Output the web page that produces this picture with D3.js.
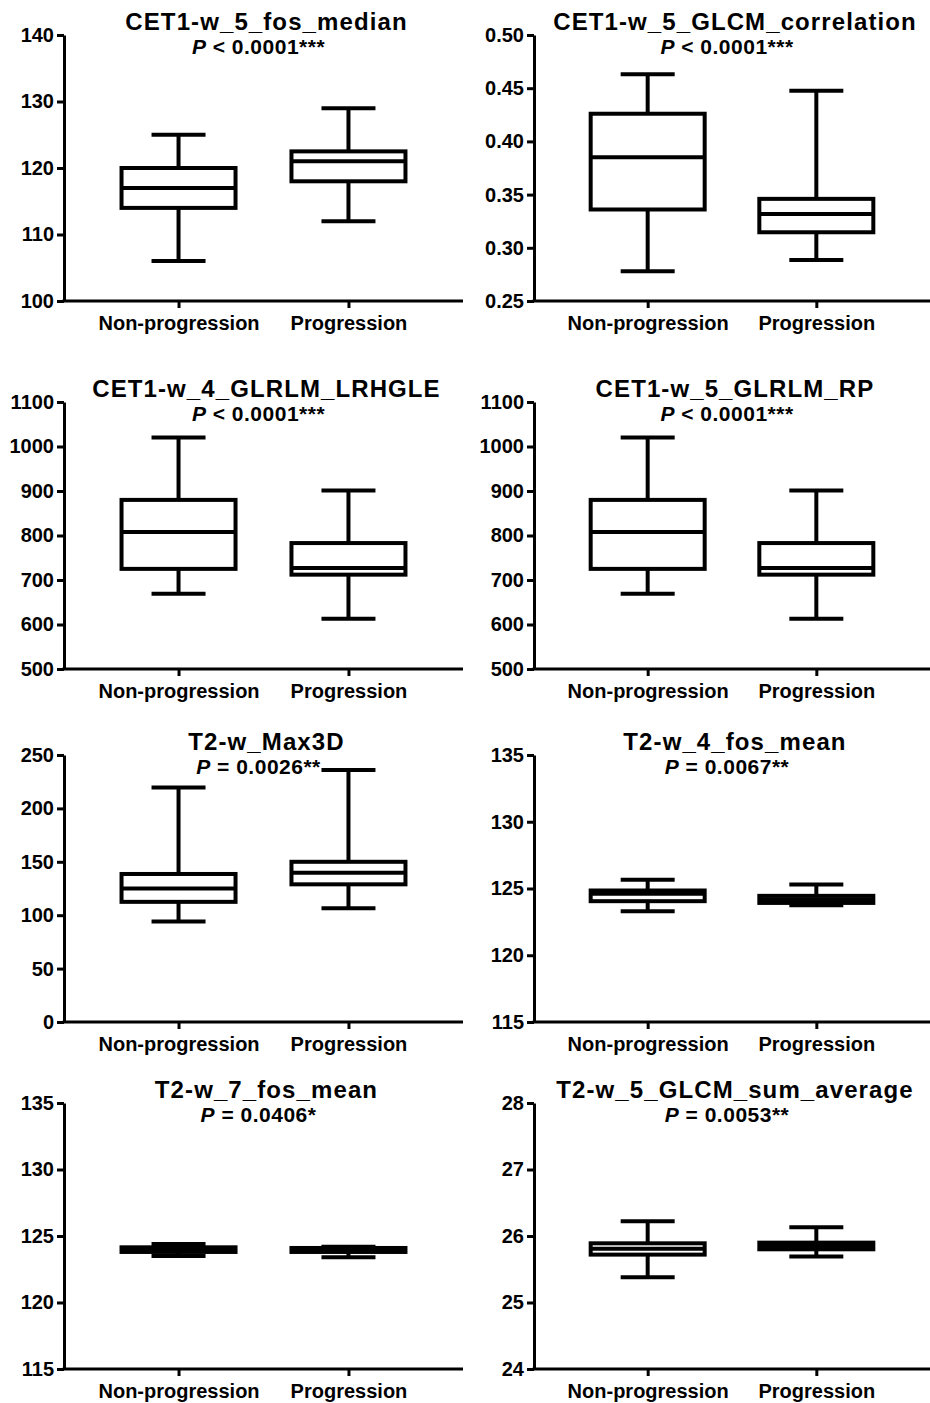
<!DOCTYPE html>
<html>
<head>
<meta charset="utf-8">
<script src="https://cdn.jsdelivr.net/npm/d3@7"></script>
<style>
  html, body { margin: 0; padding: 0; background: #fff; }
  svg { display: block; }
  text { font-family: "Liberation Sans", Arial, sans-serif; font-weight: bold; fill: #000; }
</style>
</head>
<body>
<svg id="chart" width="930" height="1403"></svg>
<script>
// ---------------- DATA ----------------
const categories = ["Non-progression", "Progression"];
const titles = [
  "CET1-w_5_fos_median", "CET1-w_5_GLCM_correlation",
  "CET1-w_4_GLRLM_LRHGLE", "CET1-w_5_GLRLM_RP",
  "T2-w_Max3D", "T2-w_4_fos_mean",
  "T2-w_7_fos_mean", "T2-w_5_GLCM_sum_average"
];
const pRelations = ["<", "<", "<", "<", "=", "=", "=", "="];
const pValues = ["0.0001", "0.0001", "0.0001", "0.0001", "0.0026", "0.0067", "0.0406", "0.0053"];
const pStars = ["***", "***", "***", "***", "**", "**", "*", "**"];
const yDomains = [[100, 140], [0.25, 0.50], [500, 1100], [500, 1100], [0, 250], [115, 135], [115, 135], [24, 28]];
const yTicks = [
  [100, 110, 120, 130, 140],
  [0.25, 0.30, 0.35, 0.40, 0.45, 0.50],
  [500, 600, 700, 800, 900, 1000, 1100],
  [500, 600, 700, 800, 900, 1000, 1100],
  [0, 50, 100, 150, 200, 250],
  [115, 120, 125, 130, 135],
  [115, 120, 125, 130, 135],
  [24, 25, 26, 27, 28]
];
const tickFormats = ["d", ".2f", "d", "d", "d", "d", "d", "d"];
// [min, Q1, median, Q3, max]
const nonProgression = [
  [106, 114, 117, 120, 125],
  [0.278, 0.336, 0.385, 0.426, 0.463],
  [669, 725, 808, 880, 1020],
  [669, 725, 808, 880, 1020],
  [94, 112.5, 125, 138.6, 219.5],
  [123.3, 124.05, 124.6, 124.85, 125.65],
  [123.5, 123.8, 124.0, 124.15, 124.4],
  [25.38, 25.72, 25.81, 25.89, 26.22]
];
const progression = [
  [112, 118, 121, 122.5, 129],
  [0.2885, 0.3146, 0.3318, 0.346, 0.4477],
  [613, 712, 727, 783, 901],
  [613, 712, 727, 783, 901],
  [106.4, 128.9, 139.8, 150, 236],
  [123.75, 123.92, 124.2, 124.45, 125.3],
  [123.4, 123.8, 123.95, 124.1, 124.2],
  [25.69, 25.8, 25.85, 25.9, 26.13]
];

// ---------------- LAYOUT ----------------
const svg = d3.select("#chart");
const colX = [[64, 463], [534, 930]];
const rowY = [[35, 301], [402, 669], [755, 1022], [1103, 1369]];
const boxHalf = 57, capHalf = 27, lw = 4;
const FONT = '"Liberation Sans", Arial, sans-serif';

titles.forEach((title, i) => {
  const [x0, x1] = colX[i % 2];
  const [yTop, yBot] = rowY[Math.floor(i / 2)];
  const g = svg.append("g");

  const x = d3.scalePoint().domain(categories).range([x0, x1]).padding(0.674);
  const y = d3.scaleLinear().domain(yDomains[i]).range([yBot, yTop]);

  // y axis
  const ya = g.append("g").attr("transform", `translate(${x0},0)`)
    .call(d3.axisLeft(y).tickValues(yTicks[i]).tickFormat(d3.format(tickFormats[i])).tickSize(7).tickPadding(3).tickSizeOuter(0));
  ya.select(".domain").attr("stroke", "#000").attr("stroke-width", 3);
  ya.selectAll(".tick line").attr("stroke", "#000").attr("stroke-width", 3);
  ya.selectAll(".tick text").attr("font-size", 20).style("font-family", FONT).style("font-weight", "bold").attr("fill", "#000");

  // x axis
  const xa = g.append("g").attr("transform", `translate(0,${yBot})`)
    .call(d3.axisBottom(x).tickSize(7).tickPadding(8).tickSizeOuter(0));
  xa.select(".domain").attr("stroke", "#000").attr("stroke-width", 3).attr("d", `M${x0 - 1.5},0H${x1}`);
  xa.selectAll(".tick line").attr("stroke", "#000").attr("stroke-width", 3);
  xa.selectAll(".tick text").attr("font-size", 20).style("font-family", FONT).style("font-weight", "bold").attr("fill", "#000");

  // boxes
  const groups = [nonProgression[i], progression[i]];
  groups.forEach((s, k) => {
    const cx = x(categories[k]);
    const [mn, q1, md, q3, mx] = s;
    const bg = g.append("g").attr("stroke", "#000").attr("stroke-width", lw).attr("fill", "none");
    bg.append("line").attr("x1", cx).attr("x2", cx).attr("y1", y(q3)).attr("y2", y(mx));
    bg.append("line").attr("x1", cx).attr("x2", cx).attr("y1", y(q1)).attr("y2", y(mn));
    bg.append("line").attr("x1", cx - capHalf).attr("x2", cx + capHalf).attr("y1", y(mx)).attr("y2", y(mx));
    bg.append("line").attr("x1", cx - capHalf).attr("x2", cx + capHalf).attr("y1", y(mn)).attr("y2", y(mn));
    bg.append("rect").attr("x", cx - boxHalf).attr("width", 2 * boxHalf)
      .attr("y", y(q3)).attr("height", y(q1) - y(q3)).attr("fill", "#fff");
    bg.append("line").attr("x1", cx - boxHalf).attr("x2", cx + boxHalf).attr("y1", y(md)).attr("y2", y(md));
  });

  // titles
  const cxT = (x0 + x1) / 2 + 3;
  g.append("text").attr("x", cxT).attr("y", yTop - 5).attr("text-anchor", "middle")
    .attr("font-size", 24).attr("letter-spacing", 1.1).text(title);
  const pt = g.append("text").attr("x", cxT - 8).attr("y", yTop + 19).attr("text-anchor", "middle")
    .attr("font-size", 21).attr("letter-spacing", 0.5);
  pt.append("tspan").attr("font-style", "italic").text("P");
  pt.append("tspan").text(` ${pRelations[i]} ${pValues[i]}${pStars[i]}`);
});
</script>
</body>
</html>
